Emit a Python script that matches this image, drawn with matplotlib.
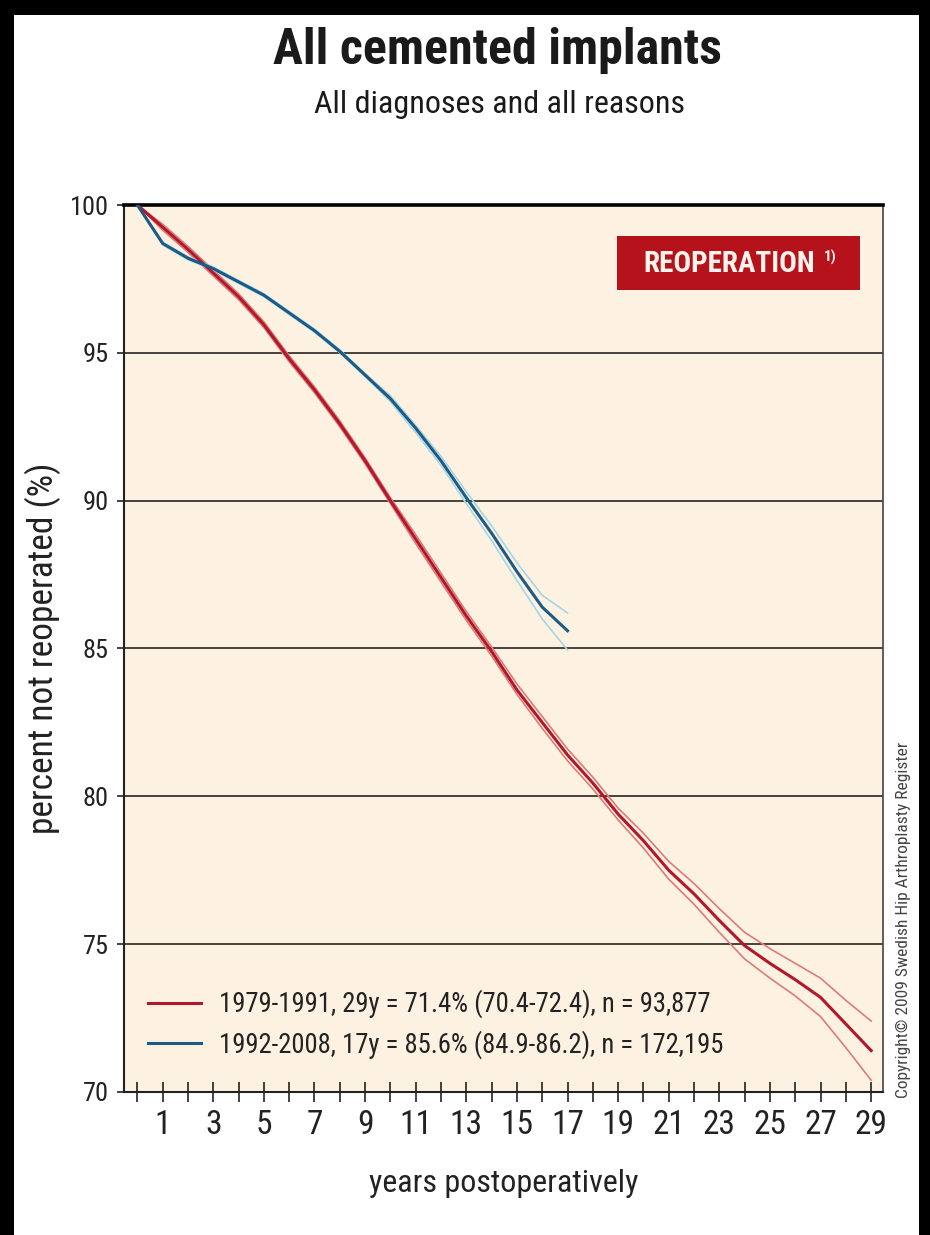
import matplotlib.pyplot as plt
from matplotlib import font_manager
from matplotlib.patches import Rectangle

# survival, percent not reoperated, by year postoperatively
years_old = list(range(0, 30))
old_main = [100, 99.25, 98.5, 97.7, 96.9, 95.95, 94.8, 93.75, 92.6, 91.35,
            90.0, 88.7, 87.4, 86.1, 84.9, 83.6, 82.5, 81.4, 80.45, 79.4,
            78.5, 77.5, 76.7, 75.8, 74.95, 74.35, 73.8, 73.2, 72.3, 71.4]
old_upper = [100, 99.35, 98.6, 97.8, 97.0, 96.05, 94.9, 93.85, 92.7, 91.45,
             90.1, 88.85, 87.55, 86.25, 85.05, 83.8, 82.7, 81.6, 80.65, 79.6,
             78.75, 77.8, 77.05, 76.2, 75.4, 74.85, 74.35, 73.85, 73.1, 72.4]
old_lower = [100, 99.15, 98.4, 97.6, 96.8, 95.85, 94.7, 93.65, 92.5, 91.25,
             89.9, 88.55, 87.25, 85.95, 84.75, 83.45, 82.3, 81.2, 80.25, 79.2,
             78.25, 77.2, 76.35, 75.4, 74.5, 73.85, 73.25, 72.55, 71.5, 70.4]

years_new = list(range(0, 18))
new_main = [100, 98.7, 98.2, 97.85, 97.4, 96.95, 96.35, 95.75, 95.05, 94.25,
            93.45, 92.45, 91.35, 90.1, 88.9, 87.6, 86.4, 85.6]
new_upper = [100, 98.75, 98.25, 97.9, 97.45, 97.0, 96.4, 95.8, 95.1, 94.3,
             93.55, 92.55, 91.5, 90.3, 89.15, 87.9, 86.8, 86.2]
new_lower = [100, 98.65, 98.15, 97.8, 97.35, 96.9, 96.3, 95.7, 95.0, 94.2,
             93.35, 92.3, 91.2, 89.9, 88.65, 87.3, 86.0, 84.95]

labels = ["1979-1991, 29y = 71.4% (70.4-72.4), n = 93,877",
          "1992-2008, 17y = 85.6% (84.9-86.2), n = 172,195"]

y_ticks = [70, 75, 80, 85, 90, 95, 100]
x_ticks = list(range(0, 30))
x_ticklabels = [str(y) if y % 2 == 1 else "" for y in x_ticks]

RED = "#b3172b"
RED_BAND = "#dc7b78"
BLUE = "#1c5b86"
BLUE_BAND = "#a6d5e6"
CREAM = "#fdf2e1"
INK = "#222222"

# narrow face if there is one
installed = {f.name for f in font_manager.fontManager.ttflist}
face = "DejaVu Sans"
for cand in ["Roboto Condensed", "Liberation Sans Narrow", "DejaVu Sans Condensed",
             "Roboto", "Liberation Sans"]:
    if cand in installed:
        face = cand
        break
plt.rcParams["font.family"] = [face, "DejaVu Sans"]

fig = plt.figure(figsize=(9.3, 12.35), dpi=100)
fig.patch.set_facecolor("white")

# black frame strips of the scanned page
for rect in [(0, 0.988, 1, 0.012), (0, 0, 0.015, 1), (0.988, 0, 0.012, 1)]:
    fig.patches.append(Rectangle(rect[:2], rect[2], rect[3], transform=fig.transFigure,
                                 facecolor="black", edgecolor="none", zorder=0))

ax = fig.add_axes([0.1333, 0.1158, 0.8162, 0.7182])
ax.set_facecolor(CREAM)

for y in y_ticks[1:-1]:
    ax.axhline(y, color="#3a3430", lw=1.3, zorder=1)

ax.plot(years_old, old_upper, color=RED_BAND, lw=1.2, zorder=2)
ax.plot(years_old, old_lower, color=RED_BAND, lw=1.2, zorder=2)
ax.plot(years_new, new_upper, color=BLUE_BAND, lw=1.2, zorder=2)
ax.plot(years_new, new_lower, color=BLUE_BAND, lw=1.2, zorder=2)
red_line, = ax.plot(years_old, old_main, color=RED, lw=2.2, zorder=3)
blue_line, = ax.plot(years_new, new_main, color=BLUE, lw=2.2, zorder=3)

ax.set_xlim(-0.53, 29.47)
ax.set_ylim(70, 100)

ax.set_yticks(y_ticks)
ax.set_yticklabels([str(v) for v in y_ticks])
ax.set_xticks(x_ticks)
ax.set_xticklabels(x_ticklabels)
ax.tick_params(axis="x", direction="inout", length=15, width=1.2, colors=INK,
               labelsize=24, pad=5)
ax.tick_params(axis="y", direction="out", length=5, width=1.2, colors=INK,
               labelsize=19, pad=6)

ax.spines["top"].set_linewidth(2.6)
ax.spines["top"].set_color("black")
ax.spines["left"].set_linewidth(1.5)
ax.spines["left"].set_color(INK)
ax.spines["bottom"].set_linewidth(1.5)
ax.spines["bottom"].set_color(INK)
ax.spines["right"].set_linewidth(1.2)
ax.spines["right"].set_color("#444444")

ax.set_ylabel("percent not reoperated (%)", fontsize=25.5, color=INK, labelpad=6)
ax.set_xlabel("years postoperatively", fontsize=23, color=INK, labelpad=20)

ax.legend([red_line, blue_line], labels, loc="lower left",
          bbox_to_anchor=(0.0, 0.01), frameon=False, fontsize=19.2,
          handlelength=2.0, handletextpad=0.68, labelspacing=0.45,
          labelcolor=INK)

# REOPERATION badge
ax.add_patch(Rectangle((0.6495, 0.904), 0.3202, 0.061, transform=ax.transAxes,
                       facecolor="#b5121b", edgecolor="none", zorder=4))
ax.text(0.797, 0.934, "REOPERATION", transform=ax.transAxes,
        ha="center", va="center", fontsize=21, fontweight="bold", color="#fff4ec",
        zorder=5)
ax.text(0.93, 0.941, "1)", transform=ax.transAxes,
        ha="center", va="center", fontsize=11, fontweight="bold", color="#fff4ec",
        zorder=5)

fig.text(0.535, 0.959, "All cemented implants", ha="center", va="center",
         fontsize=36, fontweight="bold", color="#1a1a1a")
fig.text(0.537, 0.915, "All diagnoses and all reasons", ha="center", va="center",
         fontsize=23, color="#1a1a1a")

fig.text(0.971, 0.255, "Copyright\u00a9 2009 Swedish Hip Arthroplasty Register",
         rotation=90, ha="center", va="center", fontsize=12.5, color="#444444")

fig.savefig("out.png", dpi=100, facecolor=fig.get_facecolor())
